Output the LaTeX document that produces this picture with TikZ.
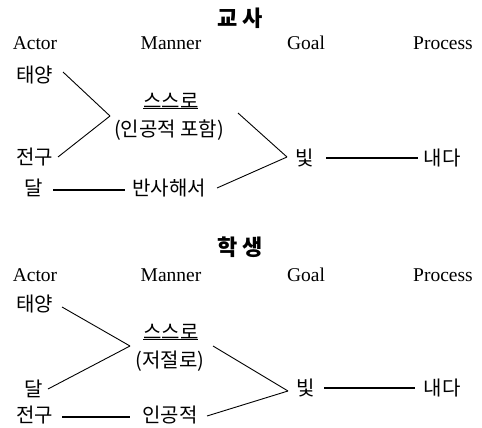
\documentclass[tikz,border=0pt]{standalone}
\usepackage{fontspec}
\setmainfont{Liberation Serif}
\newfontfamily\kr{Noto Sans CJK KR}
\begin{document}
\begin{tikzpicture}[x=1pt,y=-1pt,
  lat/.style={font=\fontsize{19.5}{21}\selectfont, inner sep=0pt},
  kor/.style={font=\kr\fontsize{20}{22}\selectfont, inner sep=0pt},
  ttl/.style={font=\kr\bfseries\fontsize{22}{24}\selectfont, inner sep=0pt},
  thin/.style={line width=0.9pt},
  thick/.style={line width=1.8pt},
  uline/.style={line width=0.6pt}]
\useasboundingbox (0,0) rectangle (482,428);
% ---------- top panel ----------
\node[ttl] (t1) at (240,18) {교 사};
\node[lat] (hA1) at (35,43) {Actor};
\node[lat] (hM1) at (171,43) {Manner};
\node[lat] (hG1) at (306,43) {Goal};
\node[lat] (hP1) at (443,43) {Process};
\node[kor] (ty1) at (35,75) {태양};
\node[kor] (m1) at (171,101) {스스로};
\node[kor] (m1b) at (169,130) {(인공적 포함)};
\node[kor] (jg1) at (35,157) {전구};
\node[kor] (dal1) at (34,188) {달};
\node[kor] (bs1) at (169,188) {반사해서};
\node[kor] (bit1) at (305,158) {빛};
\node[kor] (nd1) at (442,158) {내다};
\coordinate (j1) at (110,116);
\coordinate (k1) at (287,157);
\draw[uline] ([shift={(-28,7)}]m1.center) -- ([shift={(27,7)}]m1.center);
\draw[thin] ([shift={(28,-3)}]ty1.center) -- (j1);
\draw[thin] ([shift={(23,0)}]jg1.center) -- (j1);
\draw[thin] ([shift={(67,12)}]m1.center) -- (k1);
\draw[thin] ([shift={(48,0)}]bs1.center) -- (k1);
\draw[thick] ([shift={(21,0)}]bit1.center) -- ([shift={(-24,0)}]nd1.center);
\draw[thick] ([shift={(19,2)}]dal1.center) -- ([shift={(-44,2)}]bs1.center);
% ---------- bottom panel ----------
\node[ttl] (t2) at (240,247) {학 생};
\node[lat] (hA2) at (35,275) {Actor};
\node[lat] (hM2) at (171,275) {Manner};
\node[lat] (hG2) at (306,275) {Goal};
\node[lat] (hP2) at (443,275) {Process};
\node[kor] (ty2) at (35,304) {태양};
\node[kor] (m2) at (171,332) {스스로};
\node[kor] (m2b) at (170,361) {(저절로)};
\node[kor] (dal2) at (34,389) {달};
\node[kor] (jg2) at (35,415) {전구};
\node[kor] (ig2) at (170,415) {인공적};
\node[kor] (bit2) at (306,388) {빛};
\node[kor] (nd2) at (442,388) {내다};
\coordinate (j2) at (130,346);
\coordinate (k2) at (288,391);
\draw[uline] ([shift={(-28,7)}]m2.center) -- ([shift={(27,7)}]m2.center);
\draw[thin] ([shift={(27,3)}]ty2.center) -- (j2);
\draw[thin] ([shift={(14,0)}]dal2.center) -- (j2);
\draw[thin] ([shift={(42,14)}]m2.center) -- (k2);
\draw[thin] ([shift={(37,1)}]ig2.center) -- (k2);
\draw[thick] ([shift={(18,0)}]bit2.center) -- ([shift={(-27,0)}]nd2.center);
\draw[thick] ([shift={(27,2)}]jg2.center) -- ([shift={(-40,2)}]ig2.center);
\end{tikzpicture}
\end{document}
